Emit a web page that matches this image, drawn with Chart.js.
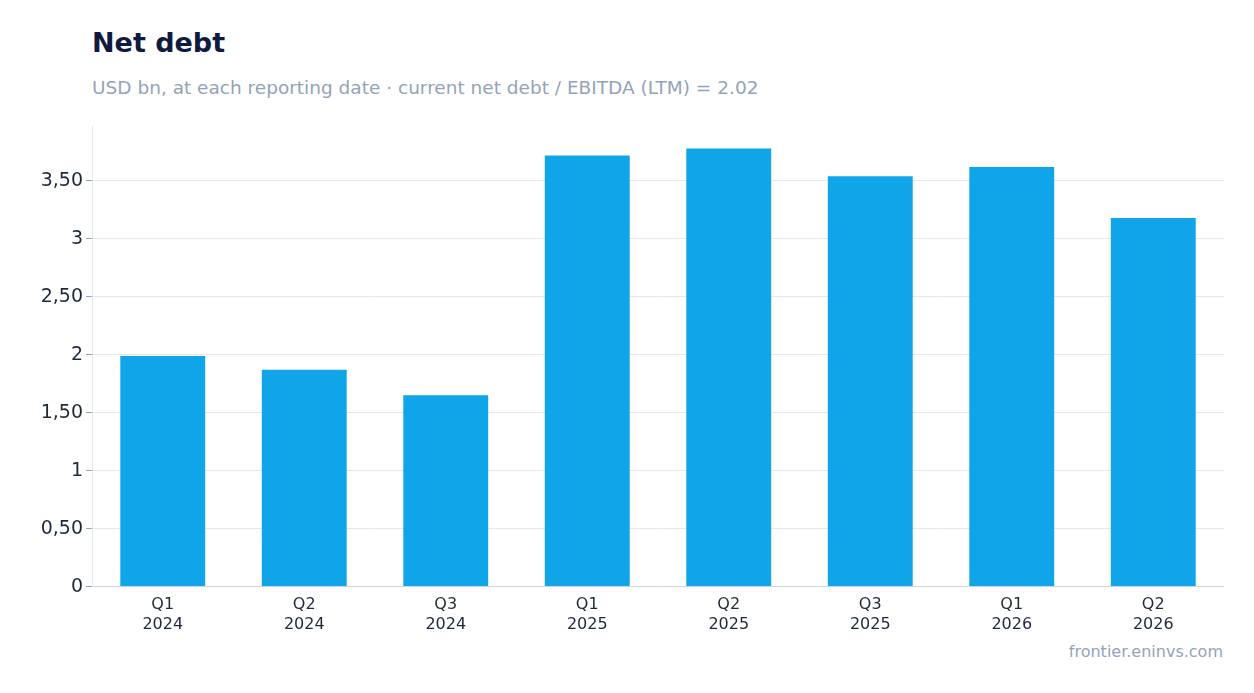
<!DOCTYPE html>
<html><head><meta charset="utf-8">
<script src="https://cdn.jsdelivr.net/npm/chart.js@4"></script>
<style>
body{margin:0;background:#fff;font-family:"DejaVu Sans",sans-serif;width:1254px;height:693px;position:relative;overflow:hidden}
#t{position:absolute;left:92px;top:27px;font-size:27px;font-weight:bold;color:#0f1a40}
#s{position:absolute;left:92px;top:77px;font-size:18.5px;color:#94a3b8}
#f{position:absolute;right:31px;top:642px;font-size:16px;color:#94a3b8}
#c{position:absolute;left:0;top:112px;width:1224px;height:525px}
</style></head><body>
<div id="t">Net debt</div>
<div id="s">USD bn, at each reporting date · current net debt / EBITDA (LTM) = 2.02</div>
<div id="c"><canvas id="chart"></canvas></div>
<div id="f">frontier.eninvs.com</div>
<script>
// Chart data
const quarters = [["Q1","2024"],["Q2","2024"],["Q3","2024"],["Q1","2025"],["Q2","2025"],["Q3","2025"],["Q1","2026"],["Q2","2026"]];
const netDebt = [1.99, 1.87, 1.65, 3.72, 3.78, 3.54, 3.62, 3.18];

const fmt = v => Number.isInteger(v) ? String(v) : v.toFixed(2).replace(".", ",");

new Chart(document.getElementById("chart").getContext("2d"), {
    type: "bar",
    data: {
        labels: quarters,
        datasets: [{ data: netDebt, backgroundColor: "#10a5e8", barPercentage: 0.6, categoryPercentage: 1 }]
    },
    options: {
        responsive: true,
        maintainAspectRatio: false,
        animation: false,
        layout: { padding: { top: 10, right: 0 } },
        plugins: { legend: { display: false }, tooltip: { enabled: false } },
        scales: {
            x: {
                grid: { display: false, drawTicks: true, tickLength: 6, color: "#cbd5e1" },
                border: { color: "#cbd5e1" },
                ticks: { color: "#1e293b", font: { family: "DejaVu Sans", size: 16 } }
            },
            y: {
                min: 0, max: 3.97,
                afterFit(scale) { scale.width = 92; },
                afterBuildTicks(scale) { scale.ticks = scale.ticks.filter(t => Math.abs(t.value * 2 - Math.round(t.value * 2)) < 1e-6); },
                grid: { color: "#e2e8f0", tickLength: 6, tickColor: "#94a3b8" },
                border: { color: "#e2e8f0" },
                ticks: { stepSize: 0.5, color: "#1e293b", font: { family: "DejaVu Sans", size: 19 }, callback: v => fmt(v) }
            }
        }
    }
});
</script>
</body></html>
